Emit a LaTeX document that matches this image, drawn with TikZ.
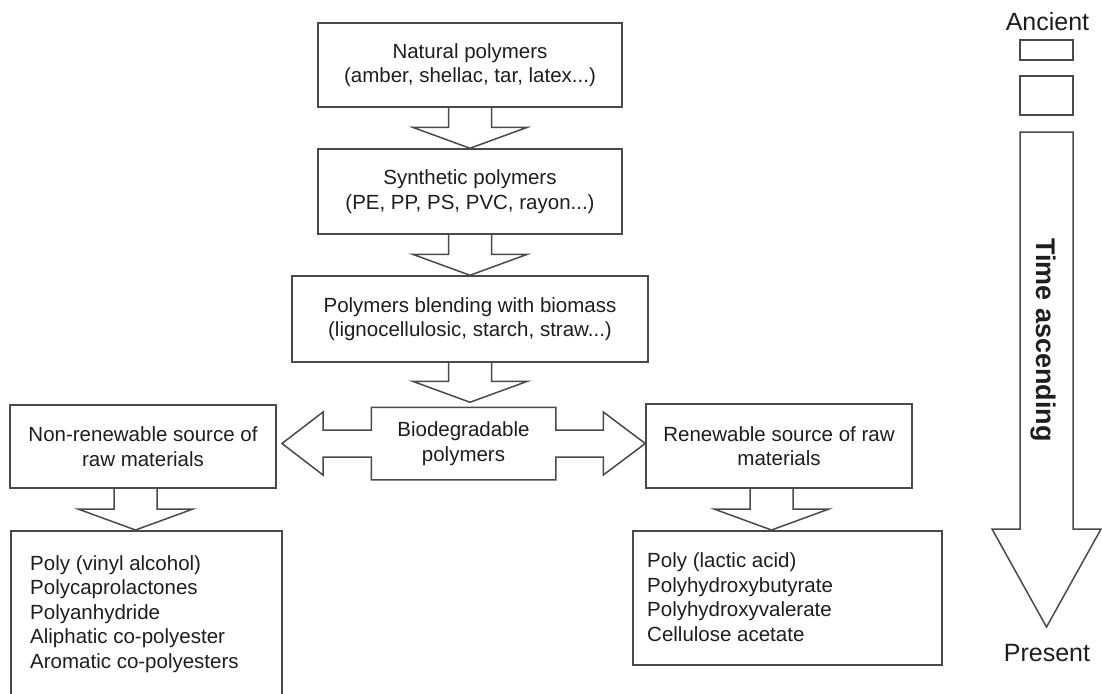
\documentclass[tikz,border=0pt]{standalone}
\usepackage{fontspec}
\setmainfont{Liberation Sans}
\usetikzlibrary{calc}
\definecolor{linec}{HTML}{4A4A4A}
\definecolor{txtc}{HTML}{1E1E1E}
\newcommand\blockdown[2]{%
  \draw[blk] ($(#1)+(-21.5,0)$) -- ($(#2)+(-21.5,-21)$) -- ++(-36,0) -- (#2)
    -- ($(#2)+(57.5,-21)$) -- ++(-36,0) -- ($(#1)+(21.5,0)$);}
\begin{document}
\begin{tikzpicture}[x=1pt,y=-1pt,
  box/.style={draw=linec, line width=1.5pt, inner sep=0pt, align=center, text=txtc,
    font=\fontsize{20.5}{24.5}\selectfont},
  txt/.style={inner sep=0pt, text=txtc, font=\fontsize{20.5}{24.5}\selectfont},
  blk/.style={draw=linec, line width=1.5pt, line join=miter}]
\path[use as bounding box, clip] (0,0) rectangle (1102,693);
\fill[white] (0,0) rectangle (1102,693);
% main chain
\node[box, minimum width=304, minimum height=84] (nat) at (470,65) {Natural polymers\\(amber, shellac, tar, latex...)};
\node[box, minimum width=304, minimum height=85] (syn) at (470,191.5) {Synthetic polymers\\(PE, PP, PS, PVC, rayon...)};
\node[box, minimum width=356, minimum height=86] (ble) at (470,319) {Polymers blending with biomass\\(lignocellulosic, starch, straw...)};
\node[box, draw=none, minimum width=183, minimum height=71] (bio) at (463.5,443.5) {Biodegradable\\polymers};
\node[box, minimum width=266, minimum height=83] (nl) at (143,446.5) {Non-renewable source of\\raw materials};
\node[box, minimum width=266, minimum height=84] (rn) at (779,446) {Renewable source of raw\\materials};
\node[box, anchor=north west, minimum width=271, minimum height=175] (ll) at (10,530) {};
\node[box, anchor=north west, minimum width=309, minimum height=134] (rl) at (632,530) {};
\node[txt, anchor=base west, align=left] (llt) at (30,668) {Poly (vinyl alcohol)\\Polycaprolactones\\Polyanhydride\\Aliphatic co-polyester\\Aromatic co-polyesters};
\node[txt, anchor=base west, align=left] (rlt) at (647,641) {Poly (lactic acid)\\Polyhydroxybutyrate\\Polyhydroxyvalerate\\Cellulose acetate};
% double arrow around bio
\coordinate (rtip) at (rn.west |- bio.center);
\coordinate (ltip) at ($(bio.center)+(-181.5,0)$);
\draw[blk] (bio.north west) -- (bio.north east) -- ($(bio.east)+(0,-13.5)$) -- ($(rtip)+(-42,-13.5)$)
  -- ($(rtip)+(-42,-31.5)$) -- (rtip) -- ($(rtip)+(-42,31.5)$) -- ($(rtip)+(-42,13.5)$)
  -- ($(bio.east)+(0,13.5)$) -- (bio.south east) -- (bio.south west) -- ($(bio.west)+(0,13.5)$)
  -- ($(ltip)+(41,13.5)$) -- ($(ltip)+(41,31.5)$) -- (ltip) -- ($(ltip)+(41,-31.5)$)
  -- ($(ltip)+(41,-13.5)$) -- ($(bio.west)+(0,-13.5)$) -- cycle;
% block arrows
\coordinate (axL) at (135.5,0);
\coordinate (axR) at (771.5,0);
\coordinate (bioTip) at ($(bio.north)+(6,-5)$);
\blockdown{nat.south}{syn.north}
\blockdown{syn.south}{ble.north}
\blockdown{ble.south}{ble.south |- bioTip}
\blockdown{axL |- nl.south}{axL |- ll.north}
\blockdown{axR |- rn.south}{axR |- rl.north}
% time arrow
\node[box, minimum width=53, minimum height=20] (r1) at (1046.5,50) {};
\node[box, minimum width=53, minimum height=39] (r2) at (1046.5,95.5) {};
\coordinate (tstart) at (1046.5,132);
\coordinate (ttip) at (1046.5,627);
\draw[blk] ($(tstart)+(-26.5,0)$) -- ($(ttip)+(-26.5,-98)$) -- ++(-28,0) -- (ttip)
  -- ($(ttip)+(54.5,-98)$) -- ++(-28,0) -- ($(tstart)+(26.5,0)$) -- cycle;
\node[txt, rotate=-90, font=\bfseries\fontsize{27}{30}\selectfont] (time) at (1043.5,340) {Time ascending};
\node[txt, anchor=base, font=\fontsize{25}{30}\selectfont] (anc) at (1047.5,31) {Ancient};
\node[txt, anchor=base, font=\fontsize{25}{30}\selectfont] (pre) at (1047,661) {Present};
\end{tikzpicture}
\end{document}
